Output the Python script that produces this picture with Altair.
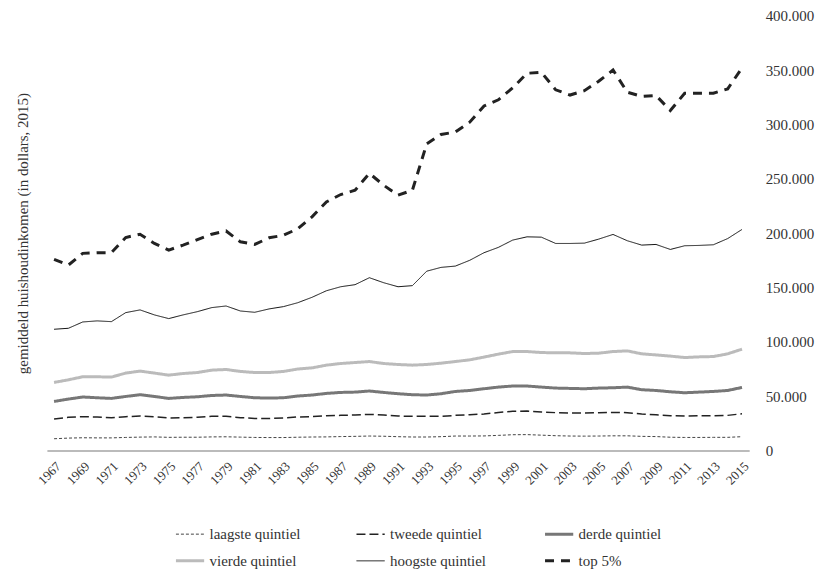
import altair as alt
import pandas as pd

years = list(range(1967, 2016))

laagste = [10.9, 11.5, 11.8, 11.7, 11.7, 12.1, 12.4, 12.6, 12.2, 12.3,
           12.3, 12.6, 12.7, 12.4, 12.1, 12.0, 12.0, 12.3, 12.5, 12.6,
           12.9, 13.1, 13.4, 13.2, 12.8, 12.5, 12.5, 12.8, 13.4, 13.4,
           13.5, 14.0, 14.6, 14.7, 14.2, 13.7, 13.4, 13.3, 13.4, 13.6,
           13.6, 13.1, 12.9, 12.3, 12.1, 12.1, 12.2, 12.2, 12.8]
tweede = [29.1, 30.6, 31.2, 30.9, 30.3, 31.2, 31.8, 31.2, 30.0, 30.3,
          30.6, 31.5, 31.5, 30.3, 29.6, 29.6, 30.0, 30.9, 31.2, 32.1,
          32.4, 32.7, 33.3, 32.7, 31.8, 31.5, 31.5, 31.5, 32.4, 33.0,
          33.6, 35.1, 36.1, 36.4, 35.5, 34.9, 34.6, 34.6, 34.9, 35.1,
          34.9, 33.7, 33.0, 32.1, 31.8, 32.1, 32.1, 32.4, 33.9]
derde = [45.2, 47.4, 49.3, 48.6, 48.0, 49.8, 51.4, 49.8, 48.0, 48.9,
         49.5, 50.7, 51.1, 49.8, 48.6, 48.3, 48.6, 50.2, 51.1, 52.6,
         53.5, 53.8, 54.8, 53.5, 52.3, 51.4, 51.1, 52.3, 54.4, 55.3,
         56.9, 58.4, 59.4, 59.4, 58.4, 57.5, 57.2, 56.9, 57.5, 57.8,
         58.4, 56.0, 55.3, 54.1, 53.2, 53.8, 54.4, 55.3, 58.1]
vierde = [62.7, 65.1, 67.9, 67.9, 67.6, 71.3, 73.1, 71.3, 69.4, 70.9,
          71.8, 74.0, 74.6, 72.8, 71.8, 71.8, 72.8, 75.0, 76.1, 78.6,
          80.1, 81.0, 81.9, 80.1, 79.2, 78.6, 79.2, 80.4, 81.9, 83.5,
          86.0, 88.7, 91.1, 91.1, 90.2, 89.9, 89.9, 89.3, 89.6, 91.1,
          91.7, 89.0, 88.0, 86.9, 85.6, 86.2, 86.5, 89.0, 93.3]
hoogste = [111.6, 112.5, 118.3, 119.3, 118.6, 126.9, 129.4, 124.8, 121.4, 124.8,
           127.8, 131.5, 133.0, 128.4, 127.2, 130.3, 132.4, 136.0, 141.0, 147.0,
           150.7, 152.6, 159.0, 154.4, 150.7, 151.7, 165.0, 168.5, 169.7, 175.0,
           182.0, 186.9, 193.6, 196.6, 196.3, 190.5, 190.5, 190.8, 194.5, 198.8,
           193.0, 189.0, 189.6, 185.0, 188.4, 188.7, 189.3, 195.0, 203.4]
top5 = [175.9, 170.6, 181.4, 182.0, 182.0, 196.0, 199.0, 190.5, 184.4, 189.0,
        194.0, 199.0, 202.0, 192.0, 189.6, 195.7, 198.0, 204.0, 215.0, 228.7,
        235.5, 239.4, 255.0, 244.0, 234.9, 239.4, 282.0, 290.8, 293.0, 302.0,
        317.0, 322.6, 333.6, 347.0, 348.0, 331.8, 327.0, 331.0, 339.7, 350.0,
        329.6, 325.7, 326.6, 312.8, 328.7, 328.7, 328.7, 332.7, 352.0]

series_names = ["laagste quintiel", "tweede quintiel", "derde quintiel",
                "vierde quintiel", "hoogste quintiel", "top 5%"]
series_values = [laagste, tweede, derde, vierde, hoogste, top5]

colors = ["#444444", "#222222", "#777777", "#bbbbbb", "#111111", "#222222"]
dashes = [[3, 2], [9, 4], [1, 0], [1, 0], [1, 0], [9, 7]]
widths = [1, 1.5, 3, 3, 1, 3]

x_ticks = list(range(1967, 2016, 2))
y_ticks = list(range(0, 400001, 50000))

rows = []
for name, vals, w in zip(series_names, series_values, widths):
    for yr, v in zip(years, vals):
        rows.append({"jaar": yr, "inkomen": v * 1000, "serie": name, "w": w})
df = pd.DataFrame(rows)

FONT = "Liberation Serif"
TXT = "#333333"

width_expr = ""
for n, w in zip(series_names, widths):
    width_expr += f"datum.value == '{n}' ? {w} : "
width_expr += "1"

x_scale = alt.Scale(domain=[1966.5, 2015.5], nice=False, zero=False)
y_scale = alt.Scale(domain=[0, 400000], nice=False)


def x_axis():
    return alt.Axis(values=x_ticks, format="d", labelAngle=-45,
                    labelOverlap=False, labelBound=False,
                    ticks=False, grid=False, domainColor="#bbbbbb",
                    domainWidth=2, labelFont=FONT, labelFontSize=13,
                    labelColor=TXT, labelPadding=9, title=None)


lines = alt.Chart(df).mark_line().encode(
    x=alt.X("jaar:Q", scale=x_scale, axis=x_axis()),
    y=alt.Y("inkomen:Q", scale=y_scale,
            axis=alt.Axis(orient="right", values=y_ticks, ticks=False,
                          domain=False, grid=False,
                          labelExpr="replace(format(datum.value, ',d'), ',', '.')",
                          labelFont=FONT, labelFontSize=15, labelColor=TXT,
                          labelPadding=16, title=None)),
    color=alt.Color("serie:N", sort=series_names,
                    scale=alt.Scale(domain=series_names, range=colors),
                    legend=alt.Legend(title=None, orient="none", legendX=136,
                                      legendY=512, columns=3,
                                      direction="horizontal",
                                      symbolType="stroke", symbolSize=800,
                                      symbolStrokeWidth=alt.ExprRef(expr=width_expr),
                                      labelFont=FONT, labelFontSize=15,
                                      labelColor=TXT, columnPadding=52,
                                      rowPadding=11, labelOffset=12)),
    strokeDash=alt.StrokeDash("serie:N", sort=series_names,
                              scale=alt.Scale(domain=series_names, range=dashes),
                              legend=alt.Legend(title=None)),
    strokeWidth=alt.StrokeWidth("w:Q", scale=None, legend=None),
    detail="serie:N",
)

title_layer = alt.Chart(df).mark_point(opacity=0).encode(
    x=alt.X("jaar:Q", scale=x_scale, axis=x_axis()),
    y=alt.Y("inkomen:Q", scale=y_scale,
            axis=alt.Axis(orient="left", labels=False, ticks=False, domain=False,
                          grid=False, title="gemiddeld huishoudinkomen (in dollars, 2015)",
                          titleFont=FONT, titleFontSize=15, titleFontWeight="normal",
                          titleColor=TXT, titlePadding=16)),
)

chart = alt.layer(lines, title_layer).resolve_axis(y="independent").properties(
    width=704, height=436,
    padding={"left": 8, "top": 0, "right": 5, "bottom": 0},
).configure_view(stroke=None)

chart.save("out.html", embed_options={"renderer": "svg", "actions": False})
